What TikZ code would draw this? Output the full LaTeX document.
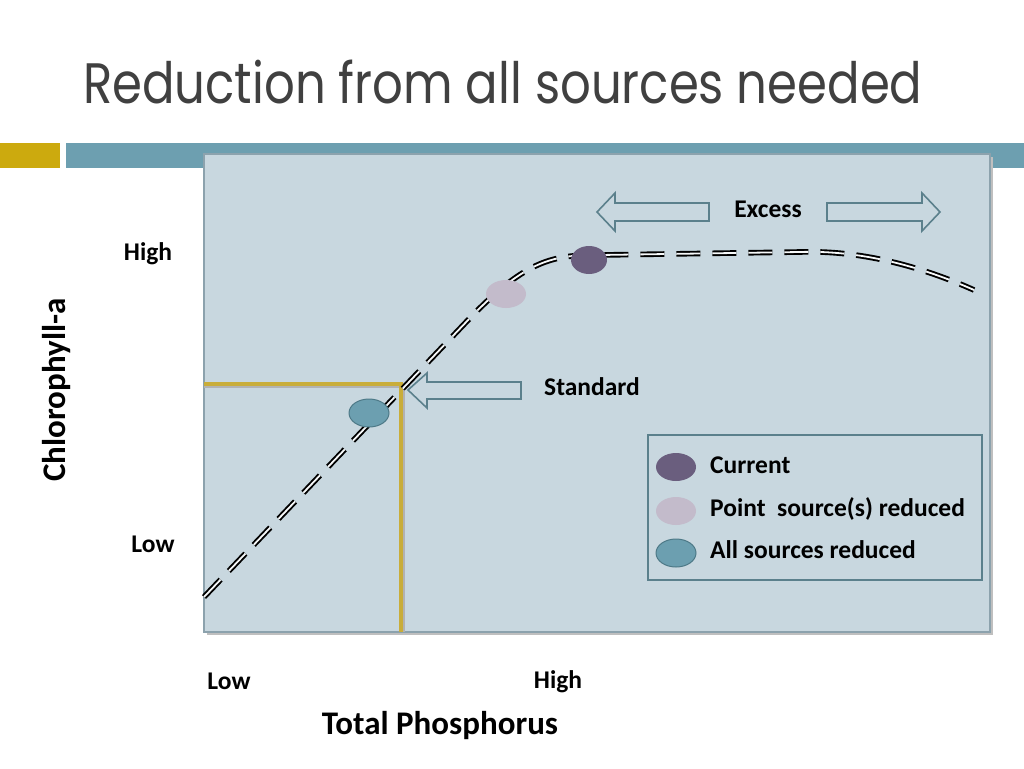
\documentclass[tikz,border=0pt]{standalone}
\usepackage{fontspec}
\setmainfont{Carlito}
\newfontfamily\titlefont{Poppins}
\usetikzlibrary{calc,shapes.geometric}
\definecolor{titlegray}{HTML}{404040}
\definecolor{goldbar}{HTML}{CCAA0E}
\definecolor{tealbar}{HTML}{6D9FB0}
\definecolor{chartbg}{HTML}{C8D7DF}
\definecolor{chartedge}{HTML}{8CA2AD}
\definecolor{arrowedge}{HTML}{5B808C}
\definecolor{goldline}{HTML}{C9AD3A}
\definecolor{darkpurple}{HTML}{6A5E7E}
\definecolor{lightpurple}{HTML}{C3BBCB}
\definecolor{tealdot}{HTML}{6C9FB0}
\definecolor{tealdotedge}{HTML}{4D7987}
\tikzset{
  lbl/.style={font=\bfseries\fontsize{25.5}{28}\selectfont, text=black, inner sep=0pt},
  biglbl/.style={font=\bfseries\fontsize{33}{36}\selectfont, text=black, inner sep=0pt},
  blockarrow/.style={draw=arrowedge, line width=1.6pt, fill=chartbg, line join=miter},
  dot/.style={ellipse, minimum width=40pt, minimum height=28pt, inner sep=0pt},
  curveline/.style={draw=black, line width=1.9pt, double=white!85!chartbg, double distance=1.8pt, dash pattern=on 24pt off 12pt},
  guide/.style={draw=goldline, line width=4pt},
}
\begin{document}
\begin{tikzpicture}[x=1pt,y=-1pt]
\useasboundingbox (0,0) rectangle (1024,768);
\fill[white] (0,0) rectangle (1024,768);
% title
\node[anchor=base west, inner sep=0pt, text=titlegray, font=\titlefont\fontsize{57}{60}\selectfont, xscale=0.845] (title) at (83,103) {Reduction from all sources needed};
% bars
\fill[goldbar] (0,143) rectangle (60,168);
\fill[tealbar] (66,143) rectangle (1024,168);
% chart background with shadow
\fill[black!25] (207,157) rectangle (993,635);
\draw[chartedge, line width=1.2pt, fill=chartbg] (204,154) rectangle (990,632);
% gold guide lines
\draw[black!30, line width=4pt] (204,386) -- (403,386) -- (403,632);
\draw[guide] (204,384) -- (401,384) -- (401,632);
% curve
\path[curveline] (204,597) -- (470,318) .. controls (528,258) and (555,255) .. (600,255) -- (800,252) .. controls (860,250) and (920,266) .. (974,290);
% points
\node[dot, fill=tealdot, draw=tealdotedge, line width=1pt] (allpt) at (369,413) {};
\node[dot, fill=lightpurple] (pointpt) at (506,294) {};
\node[dot, fill=darkpurple, minimum width=36pt] (curpt) at (589,260) {};
% standard arrow
\draw[blockarrow] (408,390) -- (427,373) -- (427,382) -- (521,382) -- (521,399) -- (427,399) -- (427,408) -- cycle;
\node[lbl, anchor=west] (standard) at (544,387) {Standard};
% excess arrows
\draw[blockarrow] (597,212) -- (615,193) -- (615,203) -- (709,203) -- (709,221) -- (615,221) -- (615,231) -- cycle;
\draw[blockarrow] (940,212) -- (922,193) -- (922,203) -- (827,203) -- (827,221) -- (922,221) -- (922,231) -- cycle;
\node[lbl] (excess) at (768,209) {Excess};
% legend
\draw[arrowedge, line width=1.3pt] (648,435) rectangle (982,580);
\node[dot, fill=darkpurple] (lg1) at (676,467) {};
\node[dot, fill=lightpurple] (lg2) at (676,511) {};
\node[dot, fill=tealdot, draw=tealdotedge, line width=1pt] (lg3) at (676,553) {};
\node[lbl, anchor=west] (lt1) at (710,465) {Current};
\node[lbl, anchor=west] (lt2) at (710,509) {Point\ \ source(s) reduced};
\node[lbl, anchor=west] (lt3) at (710,550) {All sources reduced};
% axis labels
\node[lbl] (yhigh) at (148,254) {High};
\node[lbl] (ylow) at (153,544) {Low};
\node[lbl] (xlow) at (229,681) {Low};
\node[lbl] (xhigh) at (558,682) {High};
\node[biglbl] (xlabel) at (440,726) {Total Phosphorus};
\node[biglbl, rotate=90] (ylabel) at (57,390) {Chlorophyll-a};
\end{tikzpicture}
\end{document}
